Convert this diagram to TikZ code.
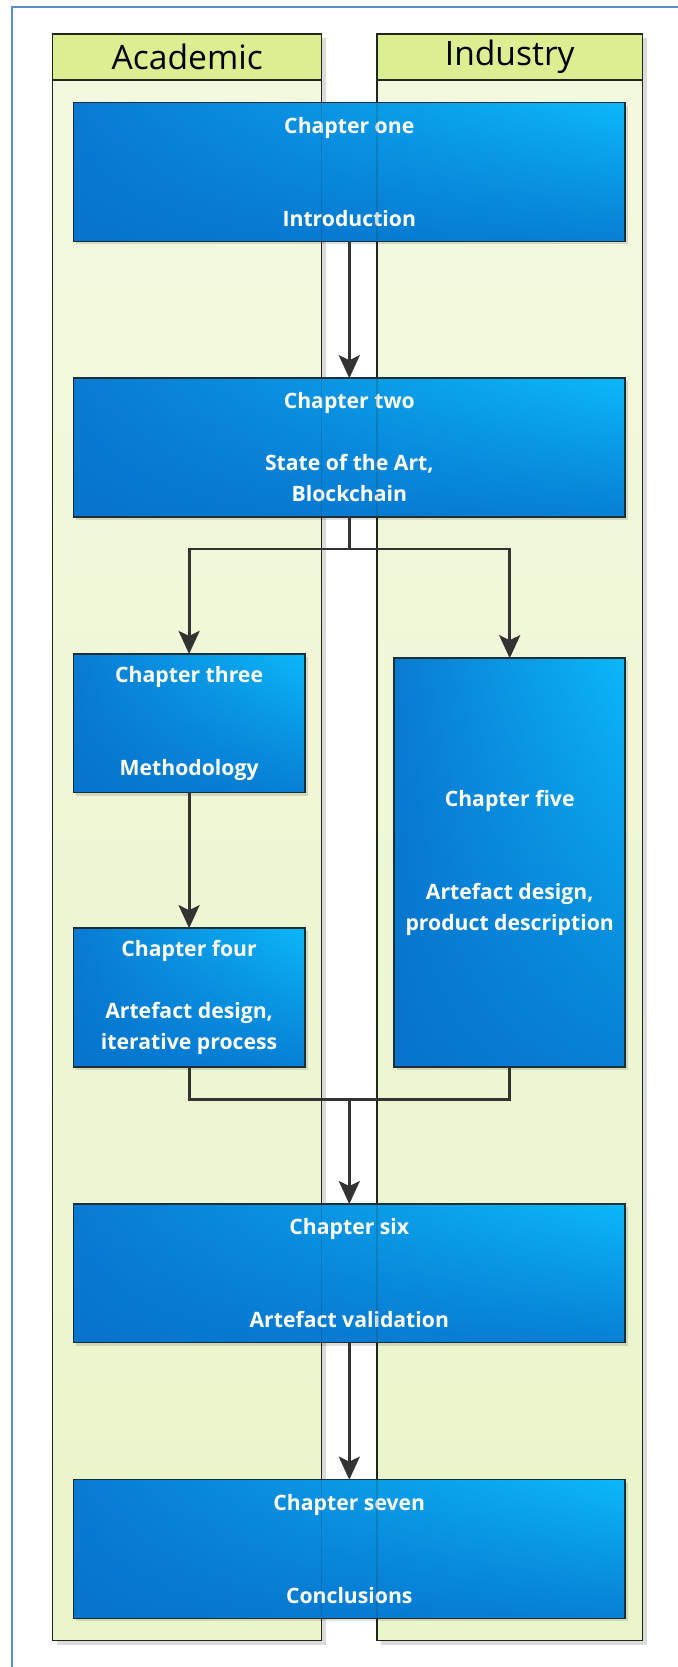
\documentclass[tikz,border=0pt]{standalone}
\usepackage{fontspec}
\setmainfont{Open Sans}
\usetikzlibrary{arrows.meta,fadings,shadows}

\definecolor{frameBlue}{HTML}{5B8BD0}
\definecolor{laneHead}{HTML}{DCEE92}
\definecolor{laneTop}{HTML}{F3F9E0}
\definecolor{laneBot}{HTML}{EAF5CA}
\definecolor{laneLine}{HTML}{1F261C}
\definecolor{boxLeft}{HTML}{0A7BD4}
\definecolor{boxRight}{HTML}{0CB8F8}
\definecolor{boxBottom}{HTML}{0672CC}
\definecolor{boxLine}{HTML}{1E2E36}
\definecolor{arrowGray}{HTML}{333333}

% darkening towards the lower edge of each chapter box
\tikzfading[name=lowerfade, top color=transparent!100, middle color=transparent!90, bottom color=transparent!20]

\begin{document}
\begin{tikzpicture}[x=0.5pt, y=-0.5pt,
  lanebody/.style={draw=laneLine, line width=0.75pt, top color=laneTop, bottom color=laneBot,
    inner sep=0pt, outer sep=0pt, minimum width=#1, minimum height=803.25pt,
    drop shadow={shadow xshift=2pt, shadow yshift=-2pt, fill=black, opacity=0.14}},
  lanetitle/.style={draw=laneLine, line width=0.75pt, fill=laneHead, inner sep=0pt, outer sep=0pt,
    minimum width=#1, minimum height=23pt, font=\fontsize{16.8}{19}\selectfont},
  chapbox/.style={draw=boxLine, line width=0.75pt, left color=boxLeft, right color=boxRight,
    inner sep=0pt, outer sep=0pt, text=white, align=center,
    font=\bfseries\fontsize{10.6}{15.5}\selectfont,
    drop shadow={shadow xshift=1.5pt, shadow yshift=-1.5pt, fill=black, opacity=0.12},
    path picture={\fill[boxBottom, path fading=lowerfade]
      (path picture bounding box.south west) rectangle (path picture bounding box.north east);}},
  widebox/.style={chapbox, minimum width=275.9pt, minimum height=69.3pt},
  narrowbox/.style={chapbox, minimum width=115.7pt, minimum height=69.3pt},
  conn/.style={draw=arrowGray, line width=1.4pt},
  arr/.style={conn, -{Stealth[length=11.5pt, width=10.5pt, inset=2.5pt]}},
  ghost/.style={draw=laneLine, line width=0.75pt, opacity=0.18},
]
\useasboundingbox (0,0) rectangle (677,1667);
\fill[white] (0,0) rectangle (677,1667);

% outer frame (runs past the right and lower edges)
\draw[frameBlue, line width=1pt] (11.7,1700) |- (720,6.7);

% swimlanes
\node[lanebody=134.5pt] (laneA) at (187.2,837.25) {};
\node[lanebody=132.75pt] (laneB) at (509.75,837.25) {};
\node[lanetitle=134.5pt] (headA) at (187.2,57) {Academic};
\node[lanetitle=132.75pt] (headB) at (509.75,57) {Industry};

% chapters
\node[widebox] (ch1) at (349.3,172) {Chapter one\\\mbox{}\\\mbox{}\\Introduction};
\node[widebox] (ch2) at (349.3,447.5) {Chapter two\\\mbox{}\\State of the Art,\\Blockchain};
\node[narrowbox] (ch3) at (189.1,723.25) {Chapter three\\\mbox{}\\\mbox{}\\Methodology};
\node[narrowbox] (ch4) at (189.1,997.45) {Chapter four\\\mbox{}\\Artefact design,\\iterative process};
\node[chapbox, minimum width=115.5pt, minimum height=204.4pt] (ch5) at (509.7,862.6)
  {Chapter five\\\mbox{}\\\mbox{}\\Artefact design,\\product description};
\node[widebox] (ch6) at (349.3,1273.35) {Chapter six\\\mbox{}\\\mbox{}\\Artefact validation};
\node[widebox] (ch7) at (349.3,1548.95) {Chapter seven\\\mbox{}\\\mbox{}\\Conclusions};

% lane borders faintly visible through the wide boxes
\foreach \b in {ch1,ch2,ch6,ch7}{
  \draw[ghost] (\b.north -| laneA.east) -- (\b.south -| laneA.east);
  \draw[ghost] (\b.north -| laneB.west) -- (\b.south -| laneB.west);
}

% connectors
\coordinate (split) at (349.3,549);
\coordinate (merge) at (349.3,1099.5);
\draw[arr] (ch1) -- (ch2);
\draw[conn] (ch2.south) -- (split);
\draw[arr] (split) -| (ch3.north);
\draw[arr] (split) -| (ch5.north);
\draw[arr] (ch3) -- (ch4);
\draw[conn] (ch4.south) |- (merge);
\draw[conn] (ch5.south) |- (merge);
\draw[arr] (merge) -- (ch6.north);
\draw[arr] (ch6) -- (ch7);
\end{tikzpicture}
\end{document}
